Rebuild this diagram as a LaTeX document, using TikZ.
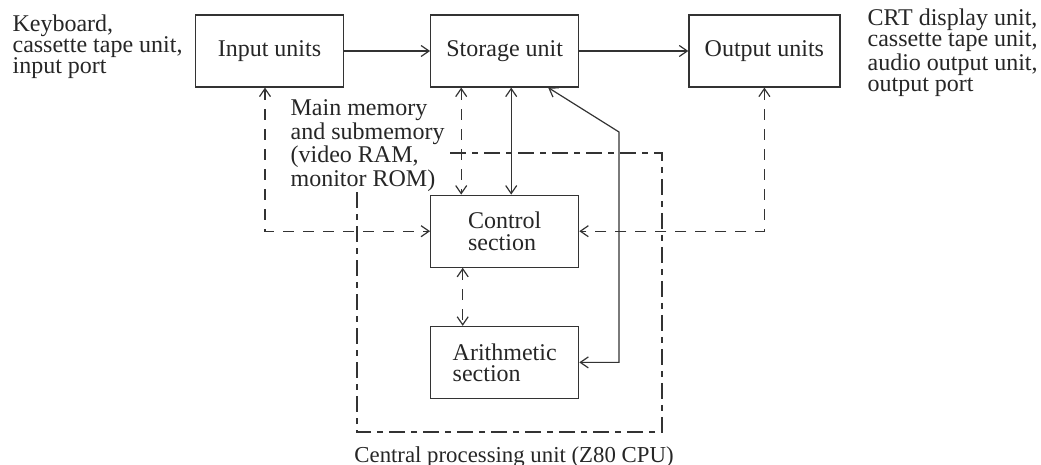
\documentclass[tikz,border=0pt]{standalone}
\usepackage{fontspec}
\setmainfont{Liberation Serif}
\usetikzlibrary{arrows.meta,positioning}

\begin{document}
\begin{tikzpicture}[>={Straight Barb[length=4pt,width=5.5pt]}, x=0.5pt, y=-0.5pt,
    line width=0.6pt, draw=black!80, text=black!85,
    font=\fontsize{12}{10.6}\selectfont,
    unit/.style={draw, rectangle, minimum width=74pt, minimum height=36pt, align=left, inner sep=2pt},
    note/.style={align=left, inner sep=0pt},
    link/.style={dash pattern=on 5.5pt off 4.5pt},
    cpuline/.style={dash pattern=on 8pt off 3pt on 3pt off 3pt}]

    \useasboundingbox (0,0) rectangle (1041,465);

    % Units
    \node [unit]                            (inp)  at (269.5,51) {Input units};
    \node [unit, right=43pt of inp]         (sto)                {Storage unit};
    \node [unit, right=54.5pt of sto, minimum width=75.5pt] (out) {Output units};
    \node [unit, below=53.5pt of sto]       (ctl)                {Control\\section};
    \node [unit, below=29pt of ctl]         (ari)                {Arithmetic\\section};

    % Notes
    \node [note, anchor=west] (devin)  at (12,46.5)  {Keyboard,\\cassette tape unit,\\input port};
    \node [note, anchor=west] (devout) at (867,53)   {CRT display unit,\\cassette tape unit,\\audio output unit,\\output port};
    \node [note, anchor=west] (mem)    at (290,145.5) {Main memory\\and submemory\\(video RAM,\\monitor ROM)};
    \node [note, font=\fontsize{11.4}{12}\selectfont] (cpu) at (514,457) {Central processing unit (Z80 CPU)};

    % CPU boundary
    \draw [cpuline] (450,153) -| (662,432) -| (357,192);

    % Paths
    \path [->]  (inp) edge (sto);
    \path [->]  (sto) edge (out);
    \draw [<->, link] ([xshift=-21.75pt]sto.south) -- ([xshift=-21.75pt]ctl.north);
    \draw [<->]       ([xshift=3.25pt]sto.south)   -- ([xshift=3.25pt]ctl.north);
    \draw [<->, link] ([xshift=-21pt]ctl.south)    -- ([xshift=-21pt]ari.north);
    \draw [<->, link] ([xshift=-2.25pt]inp.south)  |- (ctl.west);
    \draw [<->, link] (out.south)                  |- (ctl.east);
    \coordinate (knee) at (619,132);
    \draw [<->] (ari.east) -| (knee) -- ([xshift=21.75pt]sto.south);

\end{tikzpicture}
\end{document}
